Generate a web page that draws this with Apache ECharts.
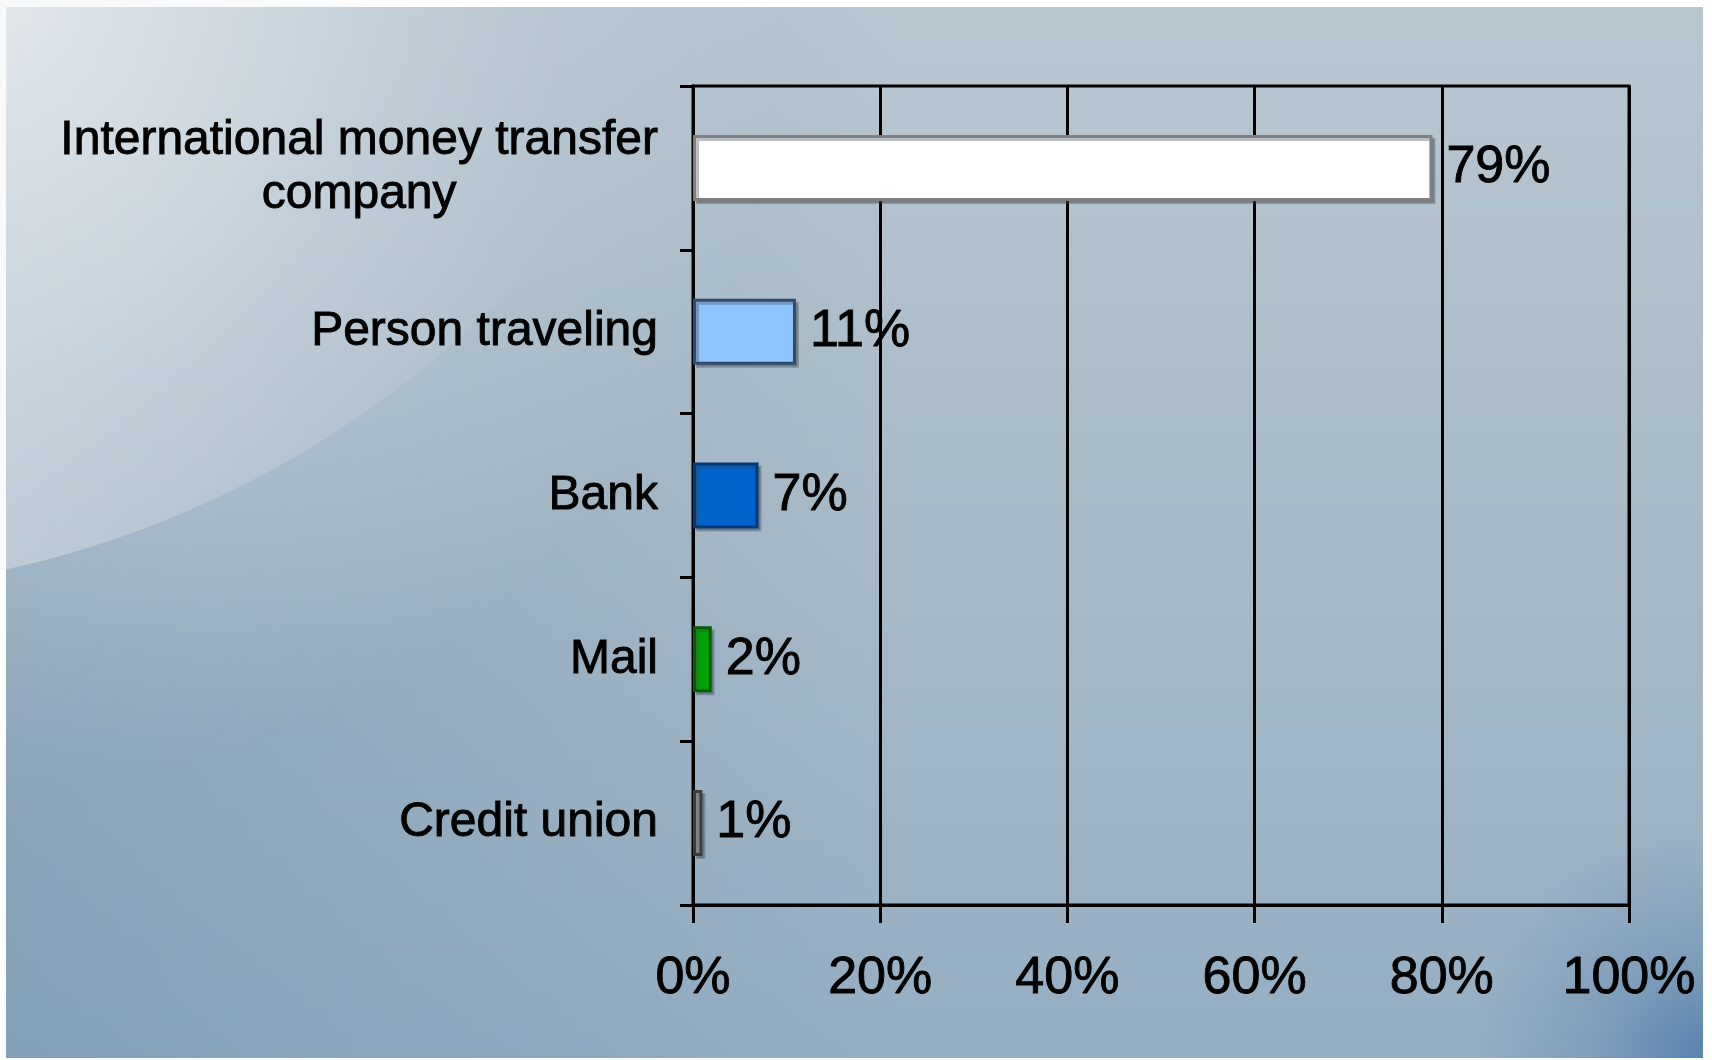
<!DOCTYPE html>
<html>
<head>
<meta charset="utf-8">
<title>Money transfer channels</title>
<script src="https://cdn.jsdelivr.net/npm/echarts@6/dist/echarts.min.js"></script>
<style>
  html, body { margin: 0; padding: 0; background: #ffffff; }
  #chart { width: 1712px; height: 1060px; }
</style>
</head>
<body>
<div id="chart"></div>
<script>
// Survey shares (percent) by channel used to send money
const categories = [
  'International money transfer\ncompany',
  'Person traveling',
  'Bank',
  'Mail',
  'Credit union'
];
const shares = [79, 11, 7, 2, 1];
const axisTicks = [0, 20, 40, 60, 80, 100];

// Fill and outline per bar
const barFills = ['#ffffff', '#8ec5ff', '#0064cc', '#00a400', '#a3a3a3'];
const barEdges = ['#808080', '#2f4b68', '#003a78', '#005e00', '#3c3c3c'];

const panel = { x: 6, y: 7, width: 1697, height: 1051 };

const chart = echarts.init(document.getElementById('chart'), null, { renderer: 'canvas' });

const font = '"Liberation Sans", Arial, sans-serif';
// slightly heavier strokes for all text
const ink = { color: '#000', textBorderColor: '#000', textBorderWidth: 0.9 };

chart.setOption({
  animation: false,
  backgroundColor: '#ffffff',
  graphic: [
    // slide backdrop: steel-blue vertical wash
    {
      type: 'rect', z: -10, silent: true,
      shape: panel,
      style: {
        fill: new echarts.graphic.LinearGradient(0, 7, 0, 1058, [
          { offset: 0, color: '#b9c7d1' },
          { offset: 0.5, color: '#a8bac7' },
          { offset: 1, color: '#95aec3' }
        ], true)
      }
    },
    // darker left side
    {
      type: 'rect', z: -9, silent: true,
      shape: panel,
      style: {
        fill: new echarts.graphic.LinearGradient(6, 0, 900, 0, [
          { offset: 0, color: 'rgba(95,130,160,0.32)' },
          { offset: 1, color: 'rgba(95,130,160,0)' }
        ], true)
      }
    },
    // darker bottom-right corner
    {
      type: 'rect', z: -9, silent: true,
      shape: panel,
      style: {
        fill: new echarts.graphic.RadialGradient(1703, 1058, 230, [
          { offset: 0, color: 'rgba(75,120,170,0.8)' },
          { offset: 0.5, color: 'rgba(80,125,170,0.3)' },
          { offset: 1, color: 'rgba(80,125,170,0)' }
        ], true)
      }
    },
    // large pale disc in the upper-left
    {
      type: 'circle', z: -8, silent: true,
      shape: { cx: -210, cy: -412, r: 1005 },
      style: {
        fill: new echarts.graphic.LinearGradient(0, 0, 560, 0, [
          { offset: 0, color: 'rgba(235,240,244,0.4)' },
          { offset: 0.6, color: 'rgba(235,240,244,0.16)' },
          { offset: 1, color: 'rgba(235,240,244,0)' }
        ], true)
      }
    },
    // soft glow from the top-left corner
    {
      type: 'rect', z: -7, silent: true,
      shape: panel,
      style: {
        fill: new echarts.graphic.RadialGradient(6, 7, 780, [
          { offset: 0, color: 'rgba(240,242,243,0.72)' },
          { offset: 0.5, color: 'rgba(235,238,240,0.3)' },
          { offset: 1, color: 'rgba(235,238,240,0)' }
        ], true)
      }
    }
  ],
  grid: {
    left: 693, top: 86, right: 83, bottom: 155,
    show: true,
    borderColor: '#000000',
    borderWidth: 3,
    backgroundColor: 'transparent'
  },
  xAxis: {
    type: 'value',
    min: axisTicks[0],
    max: axisTicks[axisTicks.length - 1],
    interval: axisTicks[1] - axisTicks[0],
    axisLine: { show: true, lineStyle: { color: '#000', width: 3 } },
    axisTick: { show: true, length: 18, lineStyle: { color: '#000', width: 3 } },
    splitLine: { show: true, lineStyle: { color: '#000', width: 3 } },
    axisLabel: Object.assign({
      margin: 48,
      formatter: '{value}%',
      fontFamily: font,
      fontSize: 52
    }, ink)
  },
  yAxis: {
    type: 'category',
    inverse: true,
    data: categories,
    axisLine: { show: true, lineStyle: { color: '#000', width: 3 } },
    axisTick: { show: true, length: 13, lineStyle: { color: '#000', width: 3 } },
    splitLine: { show: false },
    axisLabel: {
      margin: 35,
      color: '#000',
      fontFamily: font,
      fontSize: 48,
      formatter: function (v) {
        return v.split('\n').map(function (l) { return '{c|' + l + '}'; }).join('\n');
      },
      rich: {
        c: Object.assign({ align: 'center', fontSize: 48, lineHeight: 54, fontFamily: font }, ink)
      }
    }
  },
  series: [{
    type: 'bar',
    barWidth: 66,
    data: shares.map(function (v, i) {
      return {
        value: v,
        itemStyle: {
          color: barFills[i],
          borderColor: barEdges[i],
          borderWidth: 3,
          shadowColor: 'rgba(60,70,80,0.35)',
          shadowOffsetX: 3,
          shadowOffsetY: 3,
          shadowBlur: 0
        }
      };
    }),
    label: Object.assign({
      show: true,
      position: 'right',
      distance: 14,
      formatter: '{c}%',
      fontFamily: font,
      fontSize: 52
    }, ink)
  }]
});
</script>
</body>
</html>
